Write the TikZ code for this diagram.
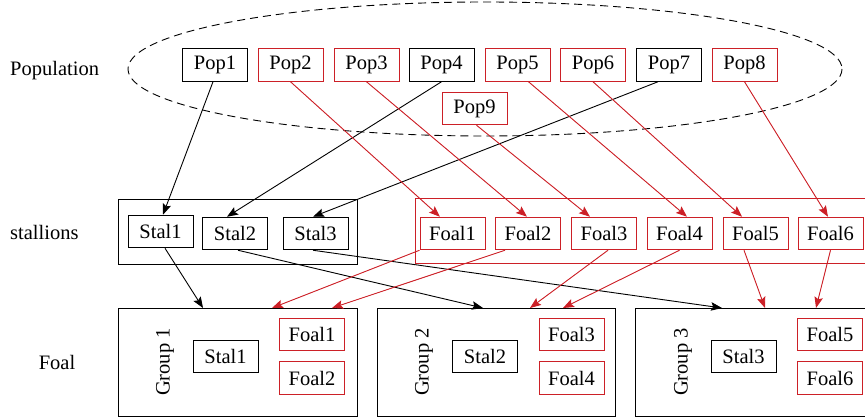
\documentclass[tikz,border=0pt]{standalone}
\usepackage{fontspec}
\setmainfont{Liberation Serif}
\usetikzlibrary{arrows.meta}
\definecolor{linkred}{RGB}{204,32,39}
\begin{document}
\begin{tikzpicture}[x=1pt,y=-1pt,
  every node/.style={font=\fontsize{20.5}{23}\selectfont},
  box/.style={draw=black,line width=1pt,minimum width=65pt,minimum height=32.5pt,inner sep=0pt},
  redbox/.style={box,draw=linkred},
  grp/.style={draw=black,line width=1pt,inner sep=0pt},
  arr/.style={line width=0.9pt,-{Stealth[length=11pt,width=8.5pt,inset=2pt]}},
  redarr/.style={arr,draw=linkred,fill=linkred},
  lbl/.style={inner sep=0pt}]
\useasboundingbox (0,0) rectangle (865,417);
\clip (0,0) rectangle (865,417);

% row labels
\node[lbl,anchor=west] (lpop) at (10,71) {Population};
\node[lbl,anchor=west] (lstal) at (10,232) {stallions};
\node[lbl] (lfoal) at (57,362) {Foal};

% population
\draw[dashed,dash pattern=on 8pt off 5pt,line width=0.9pt] (485,69) ellipse [x radius=357,y radius=67];
\node[box]    (pop1) at (215,65)   {Pop1};
\node[redbox] (pop2) at (290.5,65) {Pop2};
\node[redbox] (pop3) at (366.5,65) {Pop3};
\node[box]    (pop4) at (441.5,65) {Pop4};
\node[redbox] (pop5) at (517.5,65) {Pop5};
\node[redbox] (pop6) at (593,65)   {Pop6};
\node[box]    (pop7) at (669,65)   {Pop7};
\node[redbox] (pop8) at (744.5,65) {Pop8};
\node[redbox] (pop9) at (474.5,108.5) {Pop9};

% stallions and foals
\node[grp,minimum width=239pt,minimum height=65pt] (stalls) at (237.5,231.5) {};
\node[grp,draw=linkred,minimum width=460pt,minimum height=65pt,anchor=north west] (foals) at (415,198) {};
\node[box] (stal1) at (160.5,231.5) {Stal1};
\node[box] (stal2) at (235,233.5)   {Stal2};
\node[box] (stal3) at (315.5,233.5) {Stal3};
\node[redbox] (foal1) at (452.5,233.5) {Foal1};
\node[redbox] (foal2) at (528,233.5)   {Foal2};
\node[redbox] (foal3) at (604,233.5)   {Foal3};
\node[redbox] (foal4) at (679.5,233.5) {Foal4};
\node[redbox] (foal5) at (755.5,233.5) {Foal5};
\node[redbox] (foal6) at (830.5,233.5) {Foal6};

% groups
\node[grp,minimum width=239pt,minimum height=108pt,anchor=north west] (g1) at (118,308) {};
\node[grp,minimum width=238pt,minimum height=108pt,anchor=north west] (g2) at (377,308) {};
\node[grp,minimum width=250pt,minimum height=108pt,anchor=north west] (g3) at (635,308) {};
\node[lbl,rotate=90] (g1t) at (165,362) {Group 1};
\node[lbl,rotate=90] (g2t) at (424,362) {Group 2};
\node[lbl,rotate=90] (g3t) at (683,362) {Group 3};
\node[box]    (gs1) at (225.5,356.5) {Stal1};
\node[redbox] (gf1) at (312,334.5)   {Foal1};
\node[redbox] (gf2) at (312,378)     {Foal2};
\node[box]    (gs2) at (485,356.5)   {Stal2};
\node[redbox] (gf3) at (571.5,334.5) {Foal3};
\node[redbox] (gf4) at (571.5,378)   {Foal4};
\node[box]    (gs3) at (743.5,356.5) {Stal3};
\node[redbox] (gf5) at (830,334.5)   {Foal5};
\node[redbox] (gf6) at (830,378)     {Foal6};

% population to stallions
\draw[arr] ([xshift=-2pt]pop1.south) -- ([xshift=2.5pt]stal1.north);
\draw[arr] (pop4.south) -- ([xshift=-8pt]stal2.north);
\draw[arr] ([xshift=-11pt]pop7.south) -- ([xshift=-2.5pt]stal3.north);
% population to foals
\draw[redarr] (pop2.south) -- ([xshift=-12.5pt]foal1.north);
\draw[redarr] (pop3.south) -- ([xshift=-1pt]foal2.north);
\draw[redarr] ([xshift=2pt]pop9.south) -- ([xshift=-14pt]foal3.north);
\draw[redarr] ([xshift=11pt]pop5.south) -- ([xshift=7.5pt]foal4.north);
\draw[redarr] (pop6.south) -- ([xshift=-13.5pt]foal5.north);
\draw[redarr] (pop8.south) -- ([xshift=-2.5pt]foal6.north);

% stallions to groups
\draw[arr] ([xshift=4.5pt]stal1.south) -- ([xshift=85pt]g1.north west);
\draw[arr] ([xshift=3pt]stal2.south) -- ([xshift=106pt]g2.north west);
\draw[arr] ([xshift=-2.5pt]stal3.south) -- ([xshift=87pt]g3.north west);
% foals to groups
\draw[redarr] (foal1.south west) -- ([xshift=154pt]g1.north west);
\draw[redarr] ([xshift=-23pt]foal2.south) -- ([xshift=214pt]g1.north west);
\draw[redarr] ([xshift=4pt]foal3.south) -- ([xshift=153pt]g2.north west);
\draw[redarr] (foal4.south) -- ([xshift=186pt]g2.north west);
\draw[redarr] ([xshift=-11.5pt]foal5.south) -- ([xshift=130pt]g3.north west);
\draw[redarr] (foal6.south) -- ([xshift=181pt]g3.north west);
\end{tikzpicture}
\end{document}
